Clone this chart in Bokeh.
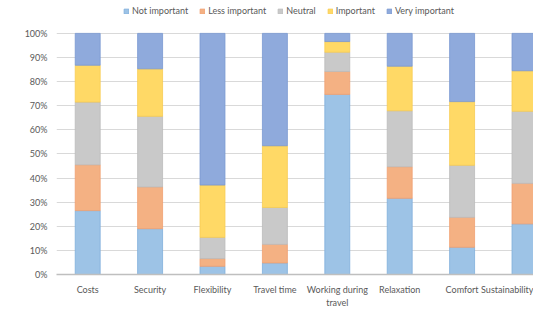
from bokeh.plotting import figure
from bokeh.models import ColumnDataSource, Range1d, NumeralTickFormatter, Legend, LegendItem, FixedTicker
from bokeh.embed import file_html
from bokeh.resources import INLINE

categories = ["Costs", "Security", "Flexibility", "Travel time", "Working during\ntravel",
              "Relaxation", "Comfort", "Sustainability"]
not_important = [0.265, 0.19, 0.034, 0.048, 0.747, 0.316, 0.113, 0.21]
less_important = [0.19, 0.173, 0.032, 0.077, 0.095, 0.131, 0.124, 0.168]
neutral = [0.26, 0.293, 0.088, 0.153, 0.08, 0.232, 0.216, 0.299]
important = [0.153, 0.197, 0.217, 0.256, 0.044, 0.185, 0.264, 0.168]
very_important = [0.132, 0.147, 0.629, 0.466, 0.034, 0.136, 0.283, 0.155]
series_names = ["Not important", "Less important", "Neutral", "Important", "Very important"]
series_keys = ["ni", "li", "ne", "im", "vi"]
colors = ["#9DC3E6", "#F4B183", "#C9C9C9", "#FFD966", "#8FAADC"]
edge_colors = ["#7FAEDC", "#F0A070", "#BBBBBB", "#F8CC50", "#7898D2"]
y_ticks = [0, 0.1, 0.2, 0.3, 0.4, 0.5, 0.6, 0.7, 0.8, 0.9, 1.0]

positions = [i + 0.5 for i in range(len(categories))]
source = ColumnDataSource(dict(x=positions, ni=not_important, li=less_important,
                               ne=neutral, im=important, vi=very_important))

W, H = 533, 311
frame_left = 56
frame_bottom = 36
cat_px = 62.4
x_end = (W - frame_left) / cat_px
unit_px = 242.0                      # pixels for 100 %
frame_h = H - frame_bottom
y_end = frame_h / unit_px            # headroom above 100 % holds the legend

p = figure(width=W, height=H, output_backend="svg", toolbar_location=None,
           x_range=Range1d(0, x_end), y_range=Range1d(0, y_end),
           min_border_left=frame_left, min_border_right=0, min_border_top=0,
           min_border_bottom=frame_bottom)

renderers = p.vbar_stack(series_keys, x="x", width=0.4, source=source,
                         fill_color=colors, line_color=edge_colors, line_width=0.8)

items = [LegendItem(label=n, renderers=[r]) for n, r in zip(series_names, renderers)]
legend = Legend(items=items, orientation="horizontal", location=(67, frame_h - 17),
                glyph_width=6, glyph_height=6, label_standoff=3, spacing=11,
                padding=0, margin=0, border_line_color=None, background_fill_alpha=0,
                label_text_font="Lato", label_text_font_size="9px",
                label_text_color="#595959", label_height=10)
p.add_layout(legend, "center")

p.outline_line_color = None
p.xgrid.grid_line_color = None
p.ygrid.grid_line_color = "#D9D9D9"
p.ygrid.grid_line_width = 1

p.yaxis.ticker = FixedTicker(ticks=y_ticks)
p.yaxis.formatter = NumeralTickFormatter(format="0%")
p.yaxis.axis_line_color = None
p.yaxis.major_tick_line_color = None
p.yaxis.minor_tick_line_color = None
p.yaxis.major_tick_out = 0
p.yaxis.major_label_standoff = 9
p.yaxis.major_label_text_font = "Lato"
p.yaxis.major_label_text_font_size = "9px"
p.yaxis.major_label_text_color = "#595959"

p.xaxis.ticker = FixedTicker(ticks=positions)
p.xaxis.major_label_overrides = {pos: c for pos, c in zip(positions, categories)}
p.xaxis.axis_line_color = "#BFBFBF"
p.xaxis.axis_line_width = 1.5
p.xaxis.major_tick_line_color = None
p.xaxis.minor_tick_line_color = None
p.xaxis.major_tick_out = 0
p.xaxis.major_label_standoff = 9
p.xaxis.major_label_text_font = "Lato"
p.xaxis.major_label_text_font_size = "9px"
p.xaxis.major_label_text_color = "#595959"
p.xaxis.major_label_text_line_height = 1.25

open("out.html", "w").write(file_html(p, INLINE))
